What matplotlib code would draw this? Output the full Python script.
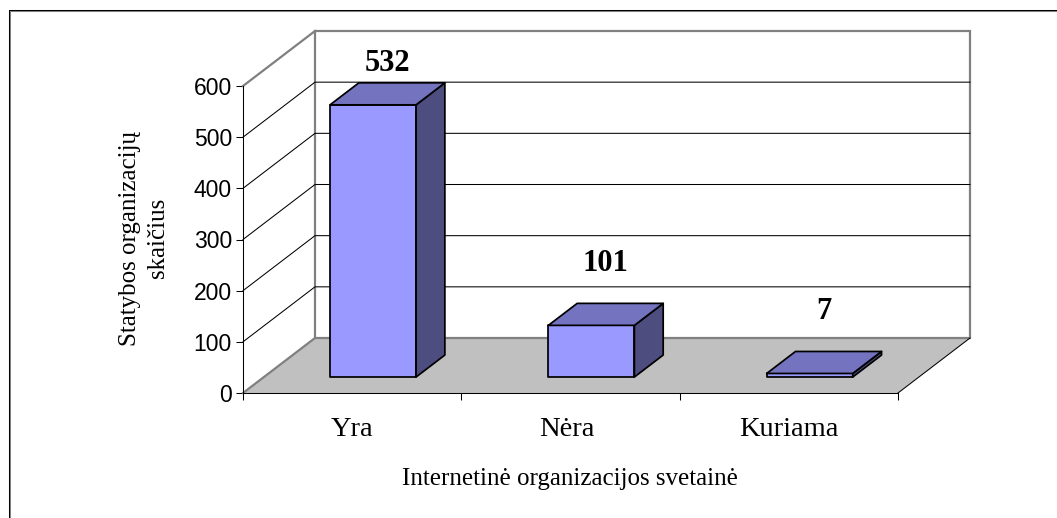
import matplotlib
matplotlib.use('Agg')
import matplotlib.pyplot as plt
from matplotlib.patches import Polygon

W, H = 1057, 518

categories = ["Yra", "Nėra", "Kuriama"]
values = [532, 101, 7]
yticks = [0, 100, 200, 300, 400, 500, 600]

# plot box in pixels, front plane of the fake 3D chart
X0, X1 = 243, 898
Y0, Y1 = 393, 86

fig = plt.figure(figsize=(W / 100, H / 100), dpi=100, facecolor="white")
ax = fig.add_axes([X0 / W, 1 - Y0 / H, (X1 - X0) / W, (Y0 - Y1) / H])
ax.set_xlim(-0.5, 2.5)
ax.set_ylim(0, 600)
ax.patch.set_visible(False)

# depth vector of the floor, in data units
sx = 3 / (X1 - X0)
sy = 600 / (Y0 - Y1)
DX, DY = 72 * sx, 55 * sy
bar_w = 0.394
# bars sit between these two depth fractions
D_FRONT, D_BACK = 0.29, 0.69
# gap above the back top edge of each bar, the 532 label gets pushed down in the original
label_gap = [19, 40, 40]
# small sideways shift of the category labels, px
cat_shift = [0, -4, 0]

GREY = "#808080"
THIN = 0.75
THICK = 1.6


def off(x, y, d):
    return (x + DX * d, y + DY * d)


def poly(pts, **kw):
    p = Polygon(pts, closed=True, clip_on=False, **kw)
    ax.add_patch(p)
    return p


# floor and walls
poly([off(-0.5, 0, 0), off(2.5, 0, 0), off(2.5, 0, 1), off(-0.5, 0, 1)],
     facecolor="#C0C0C0", edgecolor="none", zorder=1)
poly([off(-0.5, 0, 1), off(2.5, 0, 1), off(2.5, 600, 1), off(-0.5, 600, 1)],
     facecolor="white", edgecolor=GREY, linewidth=THICK, zorder=1.5)
ax.plot(*zip(off(-0.5, 0, 0), off(-0.5, 0, 1)), color=GREY, lw=THICK, zorder=2, clip_on=False)
ax.plot(*zip(off(-0.5, 600, 0), off(-0.5, 600, 1)), color=GREY, lw=THICK, zorder=2, clip_on=False)
ax.plot(*zip(off(2.5, 0, 0), off(2.5, 0, 1)), color="black", lw=THIN, zorder=2, clip_on=False)

# gridlines on back and side wall
for t in yticks[1:-1]:
    ax.plot(*zip(off(-0.5, t, 0), off(-0.5, t, 1), off(2.5, t, 1)),
            color="black", lw=THIN, zorder=2, clip_on=False)

# bars
for i, v in enumerate(values):
    l, r = i - bar_w / 2, i + bar_w / 2
    l, r = l + DX * D_FRONT, r + DX * D_FRONT
    dd = D_BACK - D_FRONT
    base = DY * D_FRONT
    top = base + v
    kw = dict(edgecolor="black", linewidth=1.25, joinstyle="round", zorder=3)
    poly([(l, base), (r, base), (r, top), (l, top)], facecolor="#9999FF", **kw)
    poly([(r, base), off(r, base, dd), off(r, top, dd), (r, top)], facecolor="#4D4D80", **kw)
    poly([(l, top), (r, top), off(r, top, dd), off(l, top, dd)], facecolor="#7373BF", **kw)
    ax.text(i + DX * 0.49, top + DY * dd + label_gap[i] * sy, str(v), ha="center", va="center",
            fontsize=22, fontweight="bold", family="Liberation Serif", color="black", zorder=4)

for s in ["top", "right"]:
    ax.spines[s].set_visible(False)
for s in ["left", "bottom"]:
    ax.spines[s].set_linewidth(THIN)
    ax.spines[s].set_zorder(2.5)

ax.set_yticks(yticks)
ax.tick_params(axis="y", length=5, width=THIN, pad=3, labelsize=16.5)
ax.set_xticks([0.5, 1.5, 2.5, -0.5], minor=False, labels=[""] * 4)
ax.tick_params(axis="x", length=5, width=THIN, direction="out")
for lab in ax.get_yticklabels():
    lab.set_family("Liberation Sans")

for i, c in enumerate(categories):
    ax.annotate(c, (i, 0), xytext=(cat_shift[i], -36), textcoords="offset pixels", ha="center", va="center",
                fontsize=20.5, family="Liberation Serif", annotation_clip=False)

fig.text(570 / W, 1 - 479 / H, "Internetinė organizacijos svetainė", ha="center", va="center",
         fontsize=18, family="Liberation Serif")
fig.text(144 / W, 1 - 238 / H, "Statybos organizacijų\nskaičius", ha="center", va="center",
         rotation=90, fontsize=18, family="Liberation Serif", linespacing=1.4)

# chart area border, black with a grey edge inside
fig.add_artist(plt.Line2D([8.5 / W, 8.5 / W, 1], [0, 1 - 9.5 / H, 1 - 9.5 / H],
                          color="black", lw=THIN))
fig.add_artist(plt.Line2D([9.5 / W, 9.5 / W, 1], [0, 1 - 10.5 / H, 1 - 10.5 / H],
                          color=GREY, lw=THIN))

fig.savefig("out.png", dpi=100)
